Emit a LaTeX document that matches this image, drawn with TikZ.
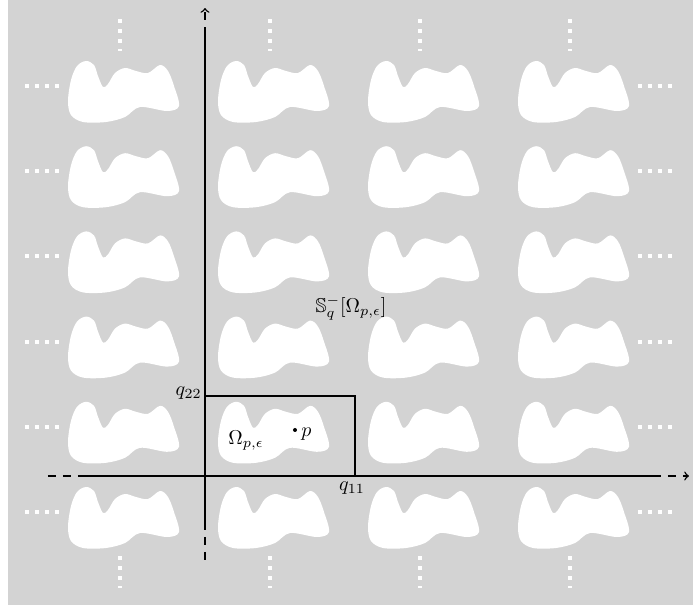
\documentclass[tikz,border=0pt]{standalone}
\usepackage{amssymb}
\usetikzlibrary{arrows}
\definecolor{bggray}{RGB}{211,211,211}

\begin{document}
\begin{tikzpicture}[x=0.5pt, y=-0.5pt]
% Styles
\tikzstyle{axis} = [line width=0.7pt]
\tikzstyle{axisend} = [line width=0.7pt, dash pattern=on 4pt off 3.5pt]
\tikzstyle{moredots} = [white, line width=2pt, dash pattern=on 2pt off 3pt]
\tikzstyle{cell} = [line width=0.8pt]
\tikzstyle{tile} = [white]

\useasboundingbox (0,0) rectangle (693,605);
\fill[bggray] (8,0) rectangle (693,605);

% Translated copies of the domain
\foreach \c in {0,...,3} {
  \foreach \r in {0,...,5} {
    \fill[tile, shift={({68+150*\c},{61+85.2*\r})}] plot[smooth cycle, tension=0.55] coordinates
      {(0,40) (3,19) (9,5) (18,0) (26,4) (30,15) (35,26) (40,23) (47,12) (57,7)
       (68,10) (80,12) (92,4) (100,10) (106,25) (111,45) (99,50) (72,46)
       (57,56) (38,61) (15,61) (3,54)};
  }
}

% Dots
\foreach \r in {0,...,5} {
  \draw[moredots] (25,{86+85.2*\r}) -- (60,{86+85.2*\r});
  \draw[moredots] (638,{86+85.2*\r}) -- (673,{86+85.2*\r});
}
\foreach \c in {0,...,3} {
  \draw[moredots] ({120+150*\c},19) -- ({120+150*\c},51);
  \draw[moredots] ({120+150*\c},556) -- ({120+150*\c},588);
}

% Axes
\coordinate (xl) at (48,476);
\coordinate (xs) at (79,476);
\coordinate (xe) at (653,476);
\coordinate (xr) at (689,476);
\coordinate (yb) at (205,562);
\coordinate (ys) at (205,522);
\coordinate (ye) at (205,35);
\coordinate (yt) at (205,8);
\draw[axis] (xs) -- (xe);
\draw[axisend] (xl) -- (xs);
\draw[axisend, ->] (xe) -- (xr);
\draw[axis] (ys) -- (ye);
\draw[axisend] (ys) -- (yb);
\draw[axisend, ->] (ye) -- (yt);

% Fundamental cell
\coordinate (c22) at (205,396);
\coordinate (c11) at (355,476);
\draw[cell] (c22) -- (c11 |- c22) -- (c11);

% Labels
\node[anchor=east, inner sep=1pt] (qtt) at (204,393) {$q_{22}$};
\node[anchor=north, inner sep=2pt] (qoo) at (352,477) {$q_{11}$};
\node (omega) at (246,441) {$\Omega_{p,\epsilon}$};
\fill (295,430) circle (1pt) coordinate (pt);
\node[anchor=west, inner sep=1pt] (plabel) at (299,434) {$p$};
\node (shift) at (351,308) {$\mathbb{S}_q^-[\Omega_{p,\epsilon}]$};
\end{tikzpicture}
\end{document}
